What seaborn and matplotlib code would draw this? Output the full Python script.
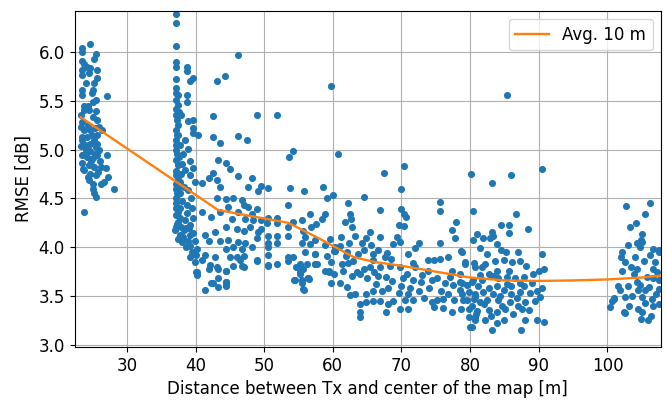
import pandas as pd
import matplotlib
matplotlib.use("Agg")
import matplotlib.pyplot as plt
import seaborn as sns


# Puntos (distancia [m], RMSE [dB])
near_pts = [
    (24.7, 6.085), (23.4, 6.04), (23.4, 6.00), (25.5, 5.98), (25.2, 5.93), (23.5, 5.91), (23.8, 5.88), (24.2, 5.85),
    (24.7, 5.83), (25.7, 5.81), (23.4, 5.81), (23.5, 5.76), (24.5, 5.78), (25.7, 5.73), (25.2, 5.68), (24.0, 5.68),
    (23.5, 5.61), (23.5, 5.56), (25.0, 5.61), (27.1, 5.55), (25.5, 5.51), (25.0, 5.49), (23.8, 5.45), (23.8, 5.40),
    (24.5, 5.40), (25.5, 5.39), (25.0, 5.33), (25.7, 5.30), (23.5, 5.28), (23.3, 5.23), (23.8, 5.20), (24.7, 5.20),
    (25.9, 5.23), (26.4, 5.20), (23.5, 5.13), (24.2, 5.13), (25.2, 5.10), (25.7, 5.06), (23.3, 5.04), (24.0, 5.01),
    (24.7, 4.99), (25.5, 5.03), (23.4, 4.94), (24.2, 4.92), (25.0, 4.91), (25.7, 4.94), (27.1, 4.94), (23.5, 4.86),
    (24.5, 4.84), (25.2, 4.82), (26.2, 4.82), (26.9, 4.81), (23.8, 4.79), (24.7, 4.75), (25.5, 4.74), (27.2, 4.72),
    (24.5, 4.69), (25.0, 4.65), (26.2, 4.65), (26.7, 4.67), (28.1, 4.60), (25.0, 4.60), (25.2, 4.55), (25.5, 4.51),
    (23.8, 4.36), (23.4, 5.10), (23.9, 5.05), (24.4, 5.25), (24.9, 5.15), (25.3, 5.22), (24.1, 4.97), (24.6, 5.06),
    (23.6, 4.80), (24.8, 4.88), (25.4, 4.95), (26.0, 5.00), (23.3, 5.35), (24.3, 5.45), (24.9, 5.58), (25.6, 5.15),
    (26.1, 4.88), (25.8, 4.77), (24.3, 4.72),
]

column_pts = [
    (37.2, 6.387), (37.2, 6.294), (37.2, 6.055), (37.2, 5.90), (37.2, 5.85), (38.8, 5.85), (38.8, 5.80), (39.7, 5.73),
    (39.2, 5.70), (37.2, 5.63), (37.5, 5.56), (38.7, 5.56), (37.2, 5.51), (38.7, 5.49), (37.5, 5.46), (37.2, 5.42),
    (37.95, 5.355), (37.2, 5.355), (39.7, 5.30), (38.9, 5.29), (37.5, 5.25), (37.2, 5.20), (39.7, 5.22), (39.7, 5.17),
    (37.5, 5.15), (40.4, 5.15), (37.2, 5.10), (38.5, 5.10), (37.7, 5.05), (38.9, 5.01), (37.2, 5.00), (38.2, 4.95),
    (37.2, 4.89), (39.2, 4.88), (37.5, 4.84), (39.7, 4.81), (38.5, 4.79), (37.2, 4.74), (39.2, 4.74), (37.7, 4.67),
    (39.9, 4.67), (37.2, 4.60), (38.9, 4.59), (37.5, 4.54), (39.4, 4.50), (37.2, 4.45), (38.7, 4.43), (37.7, 4.40),
    (37.2, 4.33), (37.5, 4.26), (37.2, 4.21), (37.95, 4.21), (39.2, 4.23), (37.0, 4.18), (37.7, 4.13), (39.2, 4.13),
    (38.9, 4.06), (39.9, 4.06), (39.2, 4.01), (40.2, 3.98), (39.2, 3.90), (39.9, 3.85), (40.2, 3.75), (40.2, 3.72),
    (41.4, 3.56), (37.3, 4.95), (37.1, 4.78), (37.4, 4.70), (37.1, 4.50), (37.6, 4.62), (37.3, 5.30), (37.1, 5.05),
    (37.6, 4.92), (38.0, 4.47), (37.8, 4.30), (38.3, 4.18), (38.6, 4.00), (38.0, 4.05), (37.4, 4.08), (37.2, 5.72),
    (38.3, 4.62), (38.8, 4.35), (39.5, 4.40), (39.6, 4.15), (40.0, 3.92),
    (37.1, 4.40), (37.3, 4.55), (37.2, 4.65), (37.4, 4.85), (37.3, 5.15), (37.6, 5.38), (37.1, 5.58), (37.9, 4.75),
    (38.1, 4.85), (37.8, 4.55), (38.4, 4.28), (37.5, 4.36), (37.3, 4.24), (38.6, 4.20), (38.2, 4.10), (39.0, 4.20),
    (39.5, 3.95), (39.6, 4.30),
    (43.1, 5.70), (44.3, 5.75), (42.6, 5.34), (42.6, 5.13), (43.6, 5.07), (43.3, 4.89), (42.6, 4.76), (40.9, 4.66),
    (41.9, 4.71), (43.1, 4.69), (43.6, 4.62), (43.1, 4.50), (40.9, 4.36), (42.3, 4.31), (43.6, 4.36), (41.4, 4.13),
    (42.8, 4.16), (41.9, 4.06), (43.6, 4.06), (41.4, 3.92), (42.8, 3.90), (42.1, 3.82), (43.3, 3.78), (42.3, 3.63),
    (43.3, 3.68), (42.6, 3.63), (43.3, 3.59), (44.5, 3.645), (44.5, 3.60), (40.1, 3.75), (40.9, 3.87), (41.9, 3.78),
    (43.1, 3.80), (44.5, 3.76),
]

middle_pts = [
    (46.2, 5.97), (49.0, 5.35), (51.8, 5.35), (46.2, 5.14), (47.5, 5.095), (54.2, 4.99), (53.6, 4.92), (44.5, 4.86),
    (45.0, 4.80), (46.2, 4.73), (48.2, 4.71), (47.6, 4.62), (49.6, 4.63), (49.1, 4.58), (50.6, 4.61), (53.8, 4.61),
    (55.8, 4.58), (58.5, 4.62), (60.0, 4.53), (59.1, 4.50), (44.5, 4.49), (45.5, 4.50), (46.7, 4.48), (47.0, 4.43),
    (47.7, 4.41), (48.9, 4.39), (53.5, 4.43), (44.8, 4.41), (46.2, 4.36), (48.2, 4.34), (45.3, 4.29), (47.2, 4.29),
    (48.4, 4.28), (49.6, 4.28), (50.6, 4.30), (51.8, 4.30), (51.8, 4.25), (50.4, 4.25), (56.7, 4.34), (55.5, 4.28),
    (54.2, 4.26), (58.9, 4.34), (58.4, 4.29), (57.6, 4.24), (56.8, 4.21), (44.5, 4.21), (46.0, 4.19), (47.0, 4.17),
    (48.0, 4.21), (49.1, 4.16), (49.6, 4.19), (53.5, 4.21), (55.7, 4.17), (50.6, 4.12), (51.8, 4.12), (53.5, 4.12),
    (56.0, 4.10), (44.8, 4.07), (46.2, 4.05), (47.2, 4.04), (48.9, 4.09), (50.6, 4.04), (51.8, 4.04), (55.5, 4.04),
    (56.7, 4.03), (57.4, 4.07), (59.6, 4.08), (58.9, 4.02), (44.5, 3.985), (45.5, 4.00), (46.7, 3.985), (48.2, 4.00),
    (50.6, 4.00), (56.0, 3.95), (57.4, 3.93), (60.3, 3.96), (45.0, 3.90), (46.0, 3.90), (47.0, 3.91), (50.6, 3.92),
    (53.5, 3.90), (54.2, 3.90), (59.1, 3.91), (45.5, 3.81), (46.7, 3.81), (48.9, 3.86), (50.6, 3.81), (51.8, 3.83),
    (53.5, 3.86), (55.2, 3.83), (57.7, 3.825), (59.8, 3.85), (44.5, 3.76), (55.0, 3.80), (55.7, 3.78), (55.2, 3.73),
    (59.4, 3.76), (60.1, 3.73), (44.5, 3.64), (44.5, 3.61), (54.5, 3.66), (55.5, 3.63), (56.6, 3.67), (59.8, 3.63),
    (55.8, 3.56), (46.5, 3.87), (47.0, 3.80), (48.9, 3.87), (50.6, 3.82), (54.3, 3.66), (55.5, 3.66), (56.4, 3.68),
    (55.7, 3.57), (54.7, 3.80), (56.2, 3.83), (57.4, 3.83), (59.7, 5.65),
]

far_pts = [
    (60.8, 4.95), (67.4, 4.76), (70.4, 4.83), (80.1, 4.75), (69.9, 4.60), (64.5, 4.51), (62.2, 4.45), (75.6, 4.46),
    (75.6, 4.37), (66.9, 4.38), (80.4, 4.37), (69.9, 4.39), (70.3, 4.34), (70.7, 4.31), (62.5, 4.34), (62.6, 4.29),
    (61.8, 4.26), (69.6, 4.225), (70.4, 4.215), (78.0, 4.255), (77.3, 4.18), (62.8, 4.21), (65.4, 4.16), (77.8, 4.09),
    (81.0, 4.14), (63.2, 4.11), (66.9, 4.10), (69.3, 4.105), (64.9, 4.09), (75.6, 4.04), (78.7, 3.96), (80.4, 4.07),
    (62.4, 4.04), (64.2, 4.04), (68.7, 4.03), (69.8, 4.05), (72.6, 4.04), (72.0, 3.995), (60.3, 4.00), (61.0, 4.01),
    (55.2, 3.81), (57.4, 3.93), (60.1, 3.96), (61.9, 3.91), (63.6, 3.93), (64.5, 3.97), (65.9, 3.93), (66.6, 3.97),
    (67.9, 3.94), (65.9, 3.87), (67.6, 3.90), (73.9, 3.87), (74.7, 3.87), (75.6, 3.88), (57.4, 3.83), (61.3, 3.83),
    (62.2, 3.84), (63.0, 3.86), (61.5, 3.76), (64.5, 3.78), (65.4, 3.80), (66.9, 3.80), (68.3, 3.81), (69.8, 3.80),
    (71.7, 3.84), (72.0, 3.80), (73.9, 3.76), (77.3, 3.76), (79.3, 3.83), (80.7, 3.80), (55.2, 3.75), (56.4, 3.68),
    (58.9, 3.76), (59.4, 3.75), (62.8, 3.71), (64.0, 3.73), (66.6, 3.705), (67.8, 3.70), (70.8, 3.73), (71.7, 3.66),
    (72.8, 3.64), (74.4, 3.66), (75.1, 3.68), (76.3, 3.63), (77.5, 3.61), (78.5, 3.64), (79.5, 3.61), (80.4, 3.66),
    (61.0, 3.63), (62.0, 3.59), (62.5, 3.51), (63.2, 3.52), (64.9, 3.52), (65.9, 3.55), (68.0, 3.58), (69.7, 3.53),
    (71.0, 3.52), (70.5, 3.46), (71.7, 3.46), (74.4, 3.44), (75.1, 3.46), (76.1, 3.47), (77.6, 3.46), (78.8, 3.52),
    (79.5, 3.46), (80.7, 3.49), (64.0, 3.42), (64.9, 3.44), (65.9, 3.45), (66.8, 3.45), (68.0, 3.42), (68.8, 3.45),
    (69.8, 3.37), (71.0, 3.37), (74.7, 3.39), (76.1, 3.38), (77.3, 3.34), (78.7, 3.37), (64.0, 3.34), (64.0, 3.285),
    (67.8, 3.34), (80.0, 3.18), (80.7, 3.25), (80.9, 3.32), (79.8, 3.29),
    (63.5, 3.75), (65.0, 3.68), (66.3, 3.62), (67.2, 3.55), (68.6, 3.65), (70.0, 3.60), (71.3, 3.58), (72.5, 3.55),
    (73.3, 3.48), (74.0, 3.58), (75.8, 3.55), (76.8, 3.52), (77.0, 3.70), (73.0, 3.72), (70.2, 3.68), (66.0, 3.75),
    (62.0, 3.95), (61.2, 4.10), (65.6, 4.02), (68.5, 3.88), (71.0, 3.93), (76.8, 3.90),
]

edge_pts = [
    (83.25, 4.66), (86.0, 4.74), (90.4, 4.805), (86.7, 4.34), (84.5, 4.23), (85.7, 4.225), (85.7, 4.15), (88.4, 4.19),
    (83.2, 4.16), (83.3, 4.115), (82.9, 4.09), (81.8, 4.09), (83.9, 4.03), (81.5, 3.99), (84.5, 3.975), (78.8, 3.95),
    (90.5, 3.93), (79.3, 3.85), (80.5, 3.84), (82.2, 3.83), (83.6, 3.86), (84.9, 3.87), (87.2, 3.86), (88.2, 3.81),
    (90.7, 3.78), (90.0, 3.76), (83.9, 3.76), (85.6, 3.76), (81.7, 3.80), (82.7, 3.73), (83.4, 3.71), (85.3, 3.70),
    (86.6, 3.68), (89.1, 3.73), (78.5, 3.73), (78.8, 3.63), (80.2, 3.64), (81.7, 3.66), (83.9, 3.60), (85.3, 3.62),
    (87.3, 3.63), (89.0, 3.63), (90.5, 3.58), (78.5, 3.56), (79.8, 3.54), (80.7, 3.525), (81.9, 3.54), (83.4, 3.525),
    (84.9, 3.56), (87.3, 3.54), (88.7, 3.53), (90.2, 3.49), (79.0, 3.46), (80.5, 3.47), (81.5, 3.44), (82.4, 3.46),
    (84.1, 3.46), (85.8, 3.44), (88.0, 3.44), (79.8, 3.37), (81.0, 3.35), (82.7, 3.36), (83.9, 3.34), (85.1, 3.37),
    (87.5, 3.37), (86.3, 3.32), (80.7, 3.285), (82.2, 3.25), (83.9, 3.22), (84.9, 3.25), (88.0, 3.26), (80.2, 3.18),
    (83.2, 3.15), (87.4, 3.15), (89.8, 3.25), (90.8, 3.23), (85.4, 5.56),
    (81.2, 3.60), (82.8, 3.58), (84.3, 3.50), (85.9, 3.52), (86.8, 3.48), (87.8, 3.60), (89.5, 3.45), (82.0, 3.42),
    (83.0, 3.30), (84.6, 3.40), (86.0, 3.60), (86.9, 3.40), (88.6, 3.36), (81.4, 3.72), (84.0, 3.68), (86.1, 3.85),
    (87.9, 3.70), (89.7, 3.55), (80.3, 3.40), (82.5, 3.93), (85.2, 3.95), (87.0, 3.95),
]

corner_pts = [
    (102.7, 4.42), (106.2, 4.45), (105.4, 4.34), (104.2, 4.25), (103.3, 4.21), (105.1, 4.14), (104.9, 4.07),
    (104.3, 4.04), (103.0, 4.02), (104.8, 4.00), (102.1, 3.95), (102.0, 3.90), (102.5, 3.85), (106.6, 3.985),
    (107.5, 3.97), (106.2, 3.92), (105.3, 3.86), (102.1, 3.76), (104.3, 3.78), (106.6, 3.78), (107.2, 3.75),
    (103.9, 3.73), (106.7, 3.68), (107.5, 3.66), (104.3, 3.64), (104.8, 3.61), (106.0, 3.59), (105.5, 3.56),
    (101.9, 3.565), (104.5, 3.565), (107.5, 3.575), (101.0, 3.48), (102.5, 3.49), (103.6, 3.50), (105.0, 3.49),
    (106.5, 3.473), (105.5, 3.43), (107.5, 3.42), (100.4, 3.39), (102.6, 3.33), (104.5, 3.37), (105.1, 3.34),
    (106.7, 3.40), (104.9, 3.27), (105.9, 3.26), (100.9, 3.47), (102.4, 3.34), (105.0, 4.05), (107.5, 3.95),
    (100.6, 3.45), (101.6, 3.60), (103.0, 3.60), (103.2, 3.40), (106.3, 3.30), (107.0, 3.52), (105.8, 3.70),
    (106.9, 3.85), (104.0, 3.90), (103.4, 3.80),
]

# Media movil de 10 m
avg_dist = [23.3, 43.3, 48.0, 53.5, 58.0, 63.0, 66.0, 70.0, 75.0, 80.0, 85.0, 90.0, 95.0, 100.0, 105.0, 107.8]
avg_rmse = [5.33, 4.38, 4.32, 4.25, 4.09, 3.90, 3.85, 3.81, 3.75, 3.69, 3.66, 3.655, 3.66, 3.67, 3.69, 3.71]

df = pd.DataFrame(
    near_pts + column_pts + middle_pts + far_pts + edge_pts + corner_pts,
    columns=["dist", "rmse"]
)

plt.rcParams["font.size"] = 12

fig, ax = plt.subplots(figsize=(6.67, 4.01), dpi=100)
fig.subplots_adjust(left=0.112, right=0.991, top=0.973, bottom=0.135)

sns.scatterplot(data=df, x="dist", y="rmse", ax=ax, color="#1f77b4",
                s=26, linewidth=0, zorder=2)
sns.lineplot(x=avg_dist, y=avg_rmse, ax=ax, color="#ff7f0e",
             linewidth=1.7, label="Avg. 10 m", zorder=3)

ax.set_xlim(22.4, 107.8)
ax.set_ylim(2.98, 6.42)
ax.grid(True)
ax.set_axisbelow(True)
ax.set_xlabel("Distance between Tx and center of the map [m]")
ax.set_ylabel("RMSE [dB]")
ax.legend(loc="upper right")

fig.savefig("out.png", dpi=100)
